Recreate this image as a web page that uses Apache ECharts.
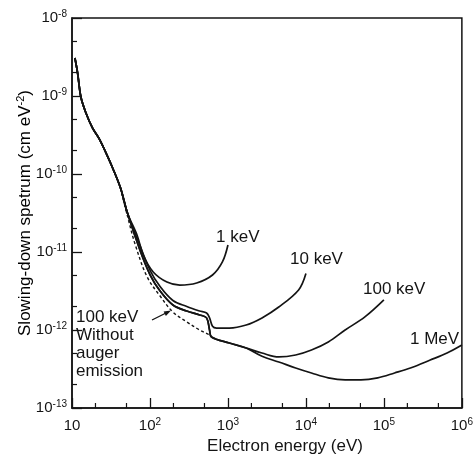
<!DOCTYPE html>
<html>
<head>
<meta charset="utf-8">
<script src="https://cdn.jsdelivr.net/npm/echarts@6/dist/echarts.min.js"></script>
<style>
  html, body { margin: 0; background: #fff; }
  #chart { width: 476px; height: 457px; }
</style>
</head>
<body>
<div id="chart"></div>
<script>
// [electron energy (eV), slowing-down spectrum (cm eV^-2)]
// steep part shared by every curve
const trunk = [[10.9, 3.07e-9], [11.8, 1.97e-9], [13.0, 9.7e-10], [15.1, 6.05e-10], [18.3, 3.89e-10],
  [22.0, 2.9e-10], [27.0, 1.91e-10], [32.8, 1.23e-10], [41.9, 6.62e-11], [51.4, 3.16e-11]];

const tail1keV = [[68.2, 1.65e-11], [82.0, 9.16e-12], [110, 5.55e-12], [165, 4.12e-12], [241, 3.77e-12],
  [397, 4.01e-12], [634, 5.07e-12], [849, 7.45e-12], [1000, 1.23e-11]];

const tail10keV = [[75.1, 1.18e-11], [100.6, 5.79e-12], [134.7, 3.61e-12], [196.9, 2.39e-12], [296.6, 2.0e-12],
  [433.6, 1.75e-12], [532, 1.65e-12], [580.7, 1.43e-12], [634, 1.12e-12], [713, 1.06e-12], [1042, 1.06e-12],
  [1713, 1.16e-12], [2733, 1.43e-12], [4487, 1.97e-12], [8054, 3.26e-12], [10000, 5.3e-12]];

// 100 keV and 1 MeV run together up to ~2 keV
const lowerShared = [[75.1, 1.03e-11], [100.6, 5.07e-12], [134.7, 3.16e-12], [196.9, 2.09e-12], [296.6, 1.75e-12],
  [433.6, 1.56e-12], [532, 1.43e-12], [580.7, 1.0e-12], [615.6, 8.13e-13], [1042, 6.81e-13], [1713, 5.88e-13]];

const tail100keV = [[2733, 5.07e-13], [4487, 4.51e-13], [7379, 4.78e-13], [11780, 5.54e-13], [19360, 7.02e-13],
  [31830, 1.0e-12], [57050, 1.47e-12], [100000, 2.43e-12]];

const tail1MeV = [[2733, 4.6e-13], [4487, 3.89e-13], [7379, 3.26e-13], [11780, 2.81e-13], [19360, 2.43e-13],
  [31830, 2.29e-13], [50800, 2.29e-13], [83400, 2.43e-13], [137000, 2.81e-13], [218800, 3.26e-13],
  [392600, 4.12e-13], [645600, 5.07e-13], [1000000, 6.43e-13]];

// 100 keV without auger emission (dashed)
const noAuger = [[41.9, 6.62e-11], [51.4, 2.9e-11], [64.9, 1.23e-11], [92.1, 4.78e-12], [134.7, 2.73e-12],
  [196.9, 1.7e-12], [296.6, 1.27e-12], [433.6, 1.0e-12], [580.7, 8.63e-13], [615.6, 8.13e-13]];

// minor ticks at 2 and 5 of every decade
const xMinorTicks = [20, 50, 200, 500, 2e3, 5e3, 2e4, 5e4, 2e5, 5e5];
const yMinorTicks = [2e-13, 5e-13, 2e-12, 5e-12, 2e-11, 5e-11, 2e-10, 5e-10, 2e-9, 5e-9];

const xMin = 10, xMax = 1e6, yMin = 1e-13, yMax = 1e-8;

const ink = '#141414';
const font = 'Liberation Sans';

const supRich = {
  base: { fontSize: 15, fontFamily: font, color: ink, lineHeight: 18 },
  sup: { fontSize: 10, fontFamily: font, color: ink, verticalAlign: 'top', lineHeight: 10 }
};

function powLabel(v) {
  const e = Math.round(Math.log10(v));
  if (e === 1) return '{base|10}';
  return '{base|10}{sup|' + e + '}';
}

const chart = echarts.init(document.getElementById('chart'));

const lineSeries = (name, data, dashed) => ({
  name: name,
  type: 'line',
  data: data,
  showSymbol: false,
  smooth: 0.35,
  lineStyle: { color: ink, width: dashed ? 1.4 : 1.7, type: dashed ? [3, 2.5] : 'solid' },
  silent: true
});

// short inside ticks, placed through the log axes
const minorTicks = (data, horizontal) => ({
  type: 'custom',
  silent: true,
  clip: false,
  data: data,
  renderItem: (params, api) => {
    const p = api.coord([api.value(0), api.value(1)]);
    return {
      type: 'line',
      shape: horizontal
        ? { x1: p[0], y1: p[1], x2: p[0] + 5, y2: p[1] }
        : { x1: p[0], y1: p[1], x2: p[0], y2: p[1] - 5 },
      style: { stroke: ink, lineWidth: 1.2 }
    };
  }
});

chart.setOption({
  animation: false,
  backgroundColor: '#fff',
  grid: { left: 72, right: 11, top: 18, bottom: 49, show: true, borderColor: ink, borderWidth: 1.5 },
  xAxis: {
    type: 'log', logBase: 10, min: xMin, max: xMax, splitNumber: 5,
    axisLine: { lineStyle: { color: ink, width: 1.5 } },
    axisTick: { inside: true, length: 10, lineStyle: { color: ink, width: 1.3 } },
    axisLabel: { margin: 9, formatter: powLabel, rich: supRich },
    splitLine: { show: false }
  },
  yAxis: {
    type: 'log', logBase: 10, min: yMin, max: yMax, splitNumber: 5,
    axisLine: { lineStyle: { color: ink, width: 1.5 } },
    axisTick: { inside: true, length: 10, lineStyle: { color: ink, width: 1.3 } },
    axisLabel: { margin: 5, formatter: powLabel, rich: supRich },
    splitLine: { show: false }
  },
  series: [
    lineSeries('1 keV', trunk.concat(tail1keV)),
    lineSeries('10 keV', trunk.concat(tail10keV)),
    lineSeries('100 keV', trunk.concat(lowerShared, tail100keV)),
    lineSeries('1 MeV', trunk.concat(lowerShared, tail1MeV)),
    lineSeries('100 keV without auger', noAuger, true),
    minorTicks(xMinorTicks.map(v => [v, yMin]), false),
    minorTicks(yMinorTicks.map(v => [xMin, v]), true)
  ],
  graphic: [
    { type: 'text', left: 216, top: 229, style: { text: '1 keV', font: '17px "Liberation Sans"', fill: ink } },
    { type: 'text', left: 290, top: 251, style: { text: '10 keV', font: '17px "Liberation Sans"', fill: ink } },
    { type: 'text', left: 363, top: 281, style: { text: '100 keV', font: '17px "Liberation Sans"', fill: ink } },
    { type: 'text', left: 410, top: 331, style: { text: '1 MeV', font: '17px "Liberation Sans"', fill: ink } },
    {
      type: 'text', left: 76, top: 308,
      style: { text: '100 keV\nWithout\nauger\nemission', font: '17px "Liberation Sans"', lineHeight: 18, fill: ink }
    },
    { type: 'line', shape: { x1: 152, y1: 320, x2: 166, y2: 313 }, style: { stroke: ink, lineWidth: 1.3 } },
    { type: 'polygon', shape: { points: [[171, 310.5], [165.9, 315.9], [163.6, 311.4]] }, style: { fill: ink } },
    {
      type: 'text', x: 285, y: 446,
      style: { text: 'Electron energy (eV)', font: '17px "Liberation Sans"', fill: ink, align: 'center', verticalAlign: 'middle' }
    },
    {
      type: 'text', x: 25, y: 213, rotation: Math.PI / 2,
      style: {
        text: '{b|Slowing-down spetrum (cm eV}{s|-2}{b|)}',
        align: 'center', verticalAlign: 'middle',
        rich: {
          b: { fontSize: 17, fontFamily: font, color: ink, lineHeight: 20 },
          s: { fontSize: 11, fontFamily: font, color: ink, verticalAlign: 'top', lineHeight: 11 }
        }
      }
    }
  ]
});
</script>
</body>
</html>
